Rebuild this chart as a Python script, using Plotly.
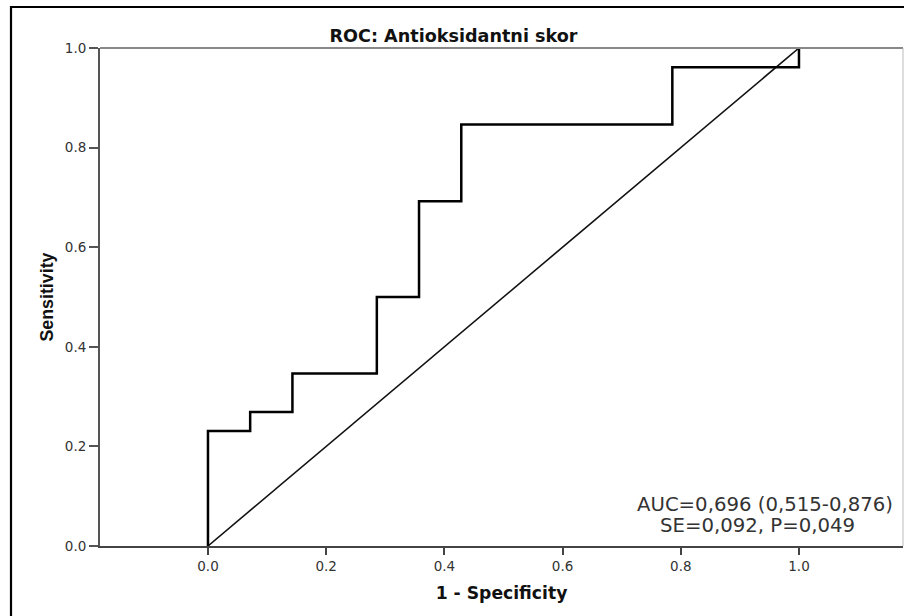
import plotly.graph_objects as go

# ROC curve points (1 - specificity, sensitivity)
fpr = [0.0, 0.0, 0.0714, 0.1429, 0.2857, 0.3571, 0.4286, 0.7857, 1.0]
tpr = [0.0, 0.2308, 0.2692, 0.3462, 0.5000, 0.6923, 0.8462, 0.9615, 1.0]

# reference diagonal
diag_x = [0.0, 1.0]
diag_y = [0.0, 1.0]

xtick_vals = [0.0, 0.2, 0.4, 0.6, 0.8, 1.0]
xtick_text = ["0.0", "0.2", "0.4", "0.6", "0.8", "1.0"]
ytick_vals = [0.0, 0.2, 0.4, 0.6, 0.8, 1.0]
ytick_text = ["0.0", "0.2", "0.4", "0.6", "0.8", "1.0"]

title_text = "ROC: Antioksidantni skor"
x_title = "1 - Specificity"
y_title = "Sensitivity"
stat_lines = ["AUC=0,696 (0,515-0,876)", "SE=0,092, P=0,049"]

fig = go.Figure()
fig.add_trace(go.Scatter(x=diag_x, y=diag_y, mode="lines",
                         line=dict(color="#111111", width=1.6),
                         hoverinfo="skip", showlegend=False))
fig.add_trace(go.Scatter(x=fpr, y=tpr, mode="lines", line_shape="hv",
                         line=dict(color="#000000", width=2.5),
                         showlegend=False))

W, H = 904, 616
L, R, T, B = 100, 1, 48, 70

fig.update_layout(
    width=W, height=H,
    margin=dict(l=L, r=R, t=T, b=B),
    paper_bgcolor="white", plot_bgcolor="white",
    font=dict(family="DejaVu Sans", color="#333333", size=13),
    title=dict(text="<b>" + title_text + "</b>", x=453.5 / W, xanchor="center",
               xref="container", yref="container", y=1 - 35.5 / H, yanchor="middle",
               font=dict(family="DejaVu Sans", size=17.6, color="#111111")),
    xaxis=dict(range=[-0.1827, 1.176], tickvals=xtick_vals, ticktext=xtick_text,
               showgrid=False, zeroline=False, showline=True, linecolor="#444444",
               linewidth=2, ticks="outside", ticklen=7, tickwidth=2, tickcolor="#444444",
               tickfont=dict(family="DejaVu Sans", size=13.5, color="#333333"),
               title=dict(text="<b>" + x_title + "</b>", standoff=14,
                          font=dict(family="DejaVu Sans", size=17.2, color="#111111"))),
    yaxis=dict(range=[0, 1], tickvals=ytick_vals, ticktext=ytick_text,
               showgrid=False, zeroline=False, showline=True, linecolor="#555555",
               linewidth=2, ticks="outside", ticklen=9, tickwidth=2, tickcolor="#555555",
               tickfont=dict(family="DejaVu Sans", size=13.5, color="#333333"),
               title=dict(text="<b>" + y_title + "</b>", standoff=7,
                          font=dict(family="Liberation Sans", size=17.8, color="#111111"))),
)

# top and right borders of the plot frame
fig.add_shape(type="line", xref="paper", yref="paper", x0=0, x1=1, y0=1, y1=1,
              line=dict(color="#888888", width=2))
fig.add_shape(type="line", xref="paper", yref="paper", x0=1, x1=1, y0=0, y1=1,
              line=dict(color="#bbbbbb", width=1))
# outer frame of the figure
fig.add_shape(type="rect", xref="paper", yref="paper",
              x0=(11 - L) / (W - L - R), x1=1.05,
              y0=-0.3, y1=(H - B - 7) / (H - T - B),
              line=dict(color="#000000", width=2.2), fillcolor="rgba(0,0,0,0)")

# statistics annotation
fig.add_annotation(x=0.942, y=0.083, xref="x", yref="y", text=stat_lines[0],
                   showarrow=False, xanchor="center", yanchor="middle",
                   font=dict(family="DejaVu Sans", size=19.7, color="#333333"))
fig.add_annotation(x=0.929, y=0.041, xref="x", yref="y", text=stat_lines[1],
                   showarrow=False, xanchor="center", yanchor="middle",
                   font=dict(family="DejaVu Sans", size=19.7, color="#333333"))

fig.write_html("out.html")
